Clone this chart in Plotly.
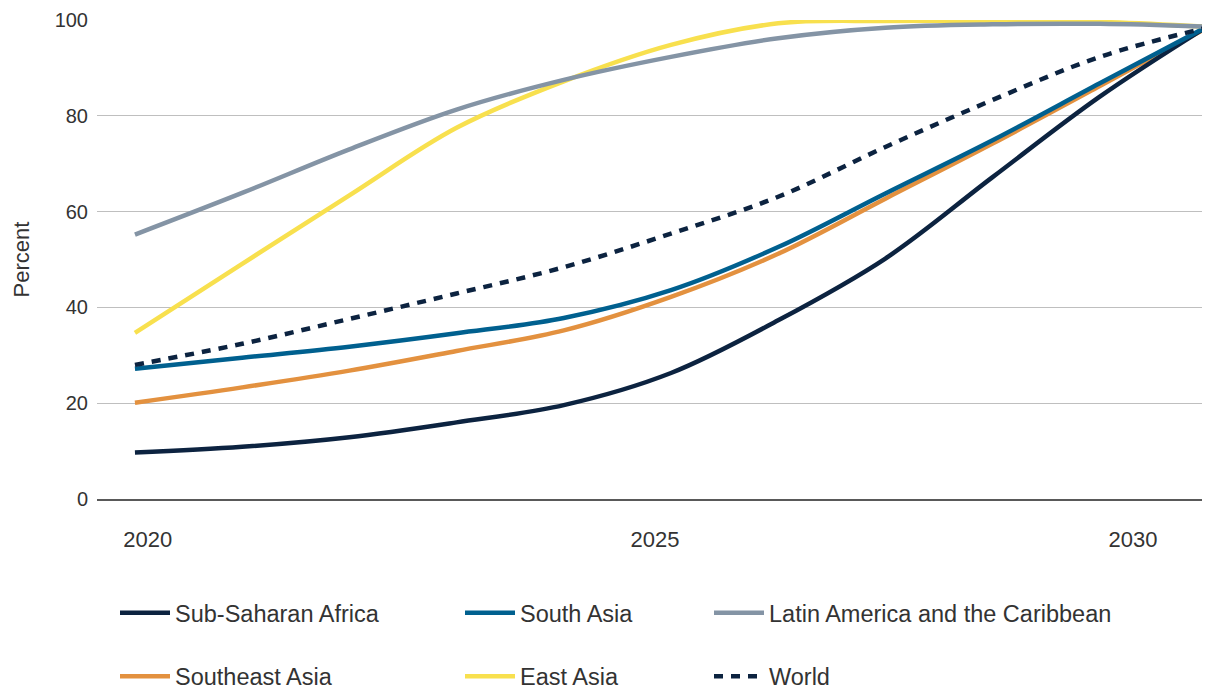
import plotly.graph_objects as go

years = [2020, 2021, 2022, 2023, 2024, 2025, 2026, 2027, 2028, 2029, 2030]

sub_saharan_africa = [9.7, 10.9, 12.9, 16.0, 19.6, 26.3, 37.3, 50.2, 67.2, 84.0, 98.6]
south_asia = [27.2, 29.5, 31.8, 34.6, 37.8, 43.6, 52.6, 63.8, 74.9, 86.8, 98.6]
latin_america = [55.2, 63.9, 73.0, 81.3, 87.5, 92.3, 96.2, 98.4, 99.1, 99.2, 98.6]
southeast_asia = [20.1, 23.3, 26.8, 30.9, 35.2, 42.2, 51.2, 62.7, 74.2, 86.2, 98.4]
east_asia = [34.7, 49.1, 63.4, 77.5, 87.2, 94.8, 99.3, 99.8, 99.8, 99.6, 98.6]
world = [28.0, 32.4, 37.6, 42.9, 48.4, 55.4, 63.1, 73.5, 83.3, 92.3, 98.4]

tick_labels = ["2020", "2025", "2030"]
tick_positions = [2020.12, 2024.85, 2029.31]
y_ticks = [0, 20, 40, 60, 80, 100]

FONT = "Liberation Sans, Arial, sans-serif"
TXT = "#333333"

# (name, values, color, dash, legend, rank) in drawing order
series = [
    ("East Asia", east_asia, "#f8e04e", "solid", "legend2", 2),
    ("Southeast Asia", southeast_asia, "#e3913f", "solid", "legend", 2),
    ("Sub-Saharan Africa", sub_saharan_africa, "#0c2340", "solid", "legend", 1),
    ("South Asia", south_asia, "#00608f", "solid", "legend2", 1),
    ("Latin America and the Caribbean", latin_america, "#8494a5", "solid", "legend3", 1),
    ("World", world, "#0c2340", "9px,8px", "legend3", 2),
]

fig = go.Figure()
for name, vals, color, dash, leg, rank in series:
    fig.add_trace(go.Scatter(
        x=years, y=vals, name=name, mode="lines",
        line=dict(color=color, width=4.5, dash=dash, shape="spline", smoothing=1),
        legend=leg, legendrank=rank, legendgroup=name,
        hoverinfo="skip",
    ))

leg_common = dict(
    orientation="v", xanchor="left", yanchor="top", y=-0.192,
    font=dict(family=FONT, size=23.5, color=TXT),
    tracegroupgap=30, bgcolor="rgba(0,0,0,0)", traceorder="grouped",
    itemwidth=50,
)

W, H = 1202, 684
fig.update_layout(
    width=W, height=H,
    margin=dict(l=89, r=0, t=12, b=193, autoexpand=False),
    paper_bgcolor="white", plot_bgcolor="white",
    font=dict(family=FONT, color=TXT),
    legend=dict(x=(115 - 97) / 1113, **leg_common),
    legend2=dict(x=(460 - 97) / 1113, **leg_common),
    legend3=dict(x=(709 - 97) / 1113, **leg_common),
    xaxis=dict(
        range=[2019.646, 2030.028],
        tickvals=tick_positions, ticktext=tick_labels,
        showgrid=False, zeroline=False, automargin=False,
        showline=True, linecolor="#595959", linewidth=2,
        ticks="", ticklabelstandoff=20,
        tickfont=dict(family=FONT, size=22, color=TXT),
    ),
    yaxis=dict(
        range=[0, 100], tickvals=y_ticks, automargin=False,
        showgrid=True, gridcolor="#bfbfbf", gridwidth=1,
        zeroline=False, showline=False, ticks="",
        ticklabelstandoff=8,
        tickfont=dict(family=FONT, size=20, color=TXT),
        title=dict(text="Percent", font=dict(family=FONT, size=22, color=TXT), standoff=18),
    ),
)

fig.write_html("out.html")
